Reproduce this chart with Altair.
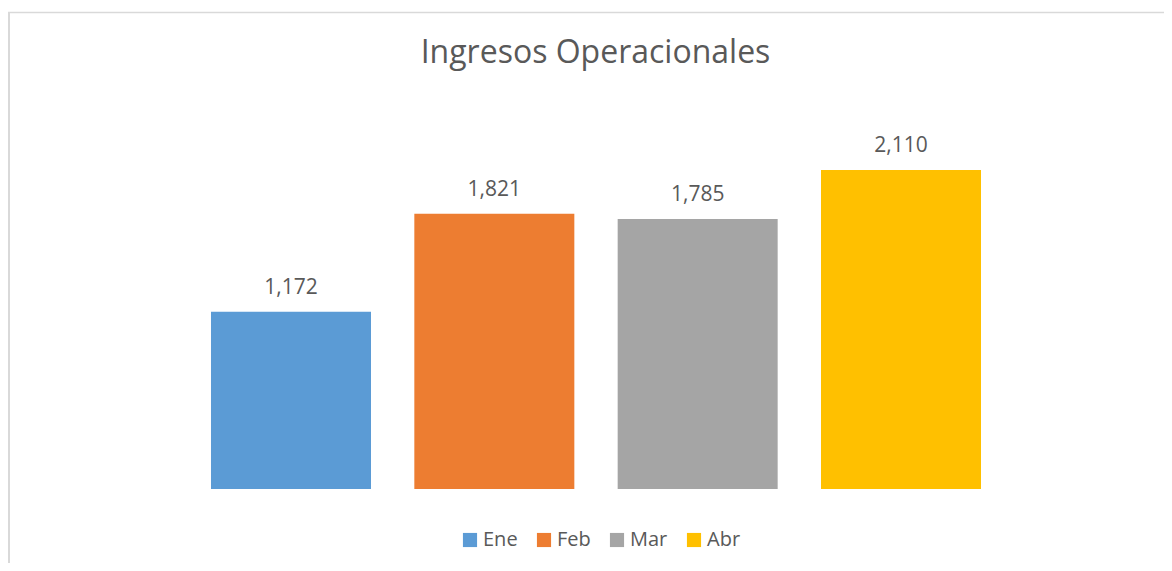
import altair as alt
import pandas as pd

months = ["Ene", "Feb", "Mar", "Abr"]
values = [1172, 1821, 1785, 2110]
colors = ["#5B9BD5", "#ED7D31", "#A5A5A5", "#FFC000"]
title = "Ingresos Operacionales"

FONT = "Open Sans"
TXT = "#595959"
W, H = 1156, 555

df = pd.DataFrame({"mes": months, "valor": values})

x = alt.X("mes:N", sort=months, axis=None,
          scale=alt.Scale(range=[181.33, 994.67], paddingInner=0.2131, paddingOuter=0.10655))
y = alt.Y("valor:Q", axis=None,
          scale=alt.Scale(domain=[0, 2500], range=[481, 103], nice=False))
color = alt.Color(
    "mes:N", sort=months,
    scale=alt.Scale(domain=months, range=colors),
    legend=alt.Legend(
        orient="none", legendX=452, legendY=522, direction="horizontal",
        title=None, symbolType="square", symbolSize=200, symbolStrokeWidth=0,
        labelFont=FONT, labelFontSize=20, labelColor=TXT, labelOffset=3,
        columnPadding=16, padding=0,
    ),
)

bars = alt.Chart(df).mark_bar().encode(x=x, y=y, color=color)
text = alt.Chart(df).mark_text(
    baseline="alphabetic", dy=-18, font=FONT, fontSize=21, color=TXT
).encode(x=x, y=y, text=alt.Text("valor:Q", format=","))

ttl = alt.Chart(pd.DataFrame({"t": [title]})).mark_text(
    font=FONT, fontSize=32, color=TXT, baseline="alphabetic", align="center"
).encode(text="t:N", x=alt.value(587.5), y=alt.value(55))

border_df = pd.DataFrame({"b": [0]})
top_rule = alt.Chart(border_df).mark_rule(color="#D9D9D9", strokeWidth=1.5).encode(
    x=alt.value(0), x2=alt.value(W), y=alt.value(4.5))
left_rule = alt.Chart(border_df).mark_rule(color="#D9D9D9", strokeWidth=2).encode(
    x=alt.value(1), y=alt.value(4), y2=alt.value(H))

chart = alt.layer(top_rule, left_rule, bars, text, ttl).properties(
    width=W, height=H, autosize=alt.AutoSizeParams(type="none"), padding=0
).configure_view(stroke=None)

chart.save("out.html", embed_options={"renderer": "svg", "actions": False})
